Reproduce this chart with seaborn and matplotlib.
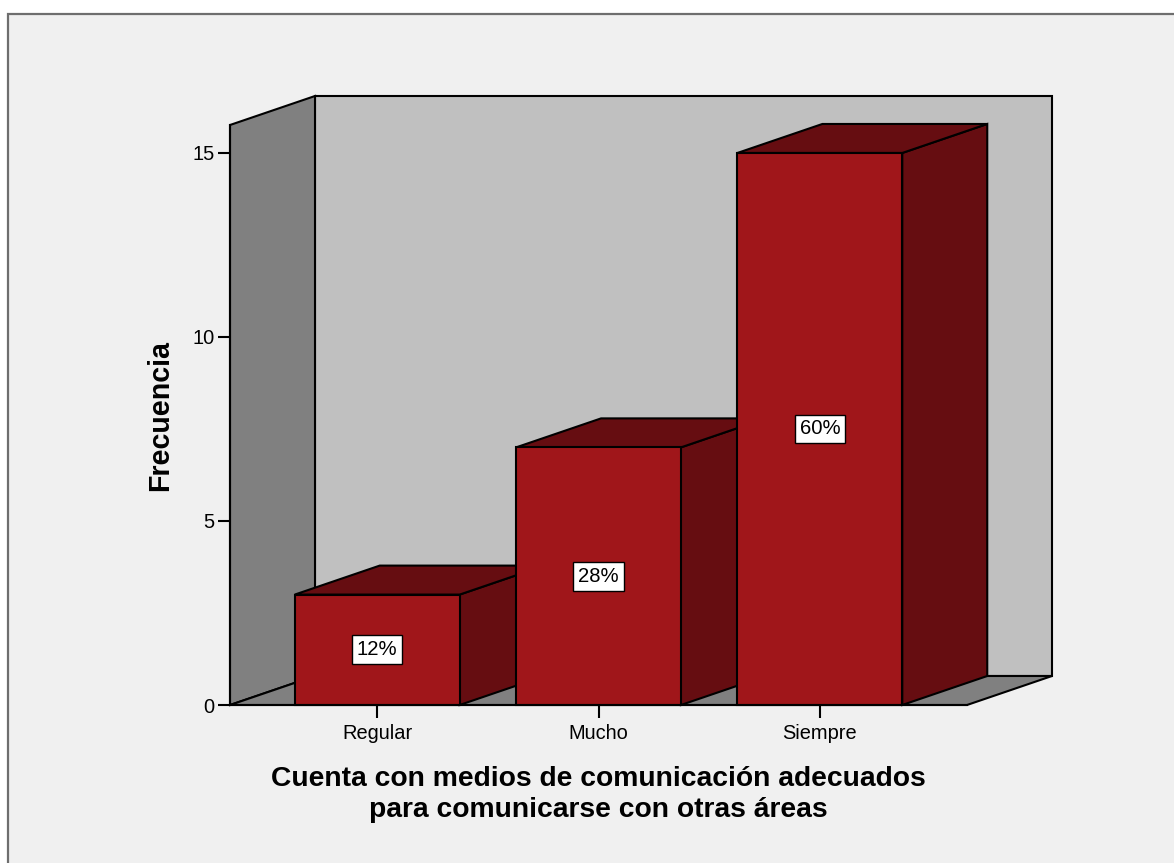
import numpy as np
import pandas as pd
import matplotlib
matplotlib.use("Agg")
import matplotlib.pyplot as plt
from matplotlib.patches import Polygon, Rectangle
import seaborn as sns

# Data
categories = ["Regular", "Mucho", "Siempre"]
counts = [3, 7, 15]
y_ticks = [0, 5, 10, 15]
x_title = "Cuenta con medios de comunicación adecuados\npara comunicarse con otras áreas"
y_title = "Frecuencia"

total = sum(counts)
pct_labels = [f"{round(100 * c / total)}%" for c in counts]

sns.set_style("white")
plt.rcParams["font.family"] = ["Liberation Sans", "DejaVu Sans"]
plt.rcParams["text.color"] = "black"
plt.rcParams["axes.labelcolor"] = "black"

FRONT = "#a0161a"
SHADE = "#660d11"
WALL = "#c0c0c0"
SIDE_WALL = "#808080"
EDGE_LW = 1.5

W, H = 1174, 863
fig = plt.figure(figsize=(W / 100, H / 100), dpi=100)
fig.patch.set_facecolor("white")

# Chart frame (light panel with a dark border)
frame = Rectangle((8 / W, -0.05), 1.2, 1 - 14 / H + 0.05, transform=fig.transFigure,
                  facecolor="#f0f0f0", edgecolor="#6e6e6e", linewidth=1.6, zorder=-10)
fig.patches.append(frame)

# Front plane of the 3D box
left, right, bottom, top = 230, 967, 705, 125
ax = fig.add_axes([left / W, 1 - bottom / H, (right - left) / W, (bottom - top) / H])
ax.patch.set_visible(False)

df = pd.DataFrame({"cat": categories, "n": counts})
sns.barplot(data=df, x="cat", y="n", color=FRONT, saturation=1, width=0.745,
            edgecolor="black", linewidth=EDGE_LW, ax=ax)

ax.set_xlim(-0.665, 2.665)
ax.set_ylim(0, 15.76)

# Depth of the box in data units (85 px right, 29 px up)
fig.canvas.draw()
p0 = ax.transData.transform((0, 0))
dd = ax.transData.inverted().transform(p0 + np.array([85, 29]))
ddx, ddy = dd[0], dd[1]

x0, x1 = ax.get_xlim()
y0, y1 = ax.get_ylim()

# Walls and floor
left_wall = Polygon([(x0, y0), (x0 + ddx, y0 + ddy), (x0 + ddx, y1 + ddy), (x0, y1)],
                    closed=True, facecolor=SIDE_WALL, edgecolor="black", linewidth=EDGE_LW,
                    clip_on=False, zorder=1)
back_wall = Polygon([(x0 + ddx, y0 + ddy), (x1 + ddx, y0 + ddy), (x1 + ddx, y1 + ddy), (x0 + ddx, y1 + ddy)],
                    closed=True, facecolor=WALL, edgecolor="black", linewidth=EDGE_LW,
                    clip_on=False, zorder=0.9)
floor = Polygon([(x0, y0), (x1, y0), (x1 + ddx, y0 + ddy), (x0 + ddx, y0 + ddy)],
                closed=True, facecolor=SIDE_WALL, edgecolor="black", linewidth=EDGE_LW,
                clip_on=False, zorder=1.1)
for p in (back_wall, left_wall, floor):
    ax.add_patch(p)

# Side and top faces for each bar, stacked left to right
for i, (bar, lab) in enumerate(zip(ax.patches[:len(counts)], pct_labels)):
    bx, bw, bh = bar.get_x(), bar.get_width(), bar.get_height()
    base_z = 3 + 2 * i
    side = Polygon([(bx + bw, 0), (bx + bw + ddx, ddy), (bx + bw + ddx, bh + ddy), (bx + bw, bh)],
                   closed=True, facecolor=SHADE, edgecolor="black", linewidth=EDGE_LW,
                   clip_on=False, zorder=base_z)
    topf = Polygon([(bx, bh), (bx + bw, bh), (bx + bw + ddx, bh + ddy), (bx + ddx, bh + ddy)],
                   closed=True, facecolor=SHADE, edgecolor="black", linewidth=EDGE_LW,
                   clip_on=False, zorder=base_z)
    ax.add_patch(side)
    ax.add_patch(topf)
    bar.set_zorder(base_z + 1)
    bar.set_clip_on(False)
    ax.text(bx + bw / 2, bh / 2, lab, ha="center", va="center", fontsize=14.6,
            color="black", zorder=50,
            bbox=dict(boxstyle="square,pad=0.24", facecolor="white", edgecolor="black", linewidth=1))

# Axes styling
for s in ("top", "right"):
    ax.spines[s].set_visible(False)
for s in ("left", "bottom"):
    ax.spines[s].set_color("black")
    ax.spines[s].set_linewidth(EDGE_LW)
    ax.spines[s].set_zorder(40)

ax.set_yticks(y_ticks)
ax.set_yticklabels([str(t) for t in y_ticks])
ax.tick_params(axis="both", which="both", direction="out", length=9, width=1.5,
               color="black", labelsize=14.4, labelcolor="black", pad=2,
               left=True, bottom=True)
ax.tick_params(axis="x", pad=5)

ax.set_xlabel(x_title, fontsize=20.3, fontweight="bold", labelpad=16, linespacing=1.25,
              color="black")
ax.set_ylabel(y_title, fontsize=20.6, fontweight="bold", labelpad=13, color="black")

fig.savefig("out.png", dpi=100, facecolor=fig.get_facecolor())
